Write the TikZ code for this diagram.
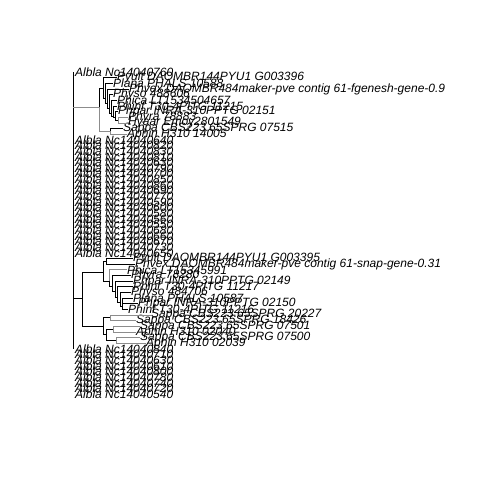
\documentclass[tikz,border=0pt]{standalone}
\usepackage{fontspec}
\setmainfont{Liberation Sans}
\usetikzlibrary{positioning}
\newcommand{\yy}[1]{72+5.65*(#1)}
\begin{document}
\begin{tikzpicture}[
    x=1pt, y=-1pt,
    tip/.style={anchor=west, inner sep=0pt, font=\fontsize{12}{12}\selectfont\itshape},
    edge/.style={draw=black, line width=0.7pt},
    greyedge/.style={draw=black!45, line width=0.7pt}
]
\useasboundingbox (0,0) rectangle (480,480);
%% root
\coordinate (root) at (73,{\yy{0}});
\coordinate (rootend) at (73,{\yy{49}});
\draw[edge] (root) -- (rootend);
%% first clade
\node[tip] (a0) at (75,{\yy{0}}) {Albla Nc14040760};
\node[tip] (a1) at (117,{\yy{1}}) {Pyult DAOMBR144PYU1 G003396};
\node[tip] (a2) at (113,{\yy{2}}) {Plana PHALS 10588};
\node[tip] (a3) at (129,{\yy{3}}) {Phvex DAOMBR484maker-pve contig 61-fgenesh-gene-0.9};
\node[tip] (a4) at (113,{\yy{4}}) {Physo 488606};
\node[tip] (a5) at (117,{\yy{5}}) {Phica LT1534504657};
\node[tip] (a6) at (117,{\yy{6}}) {Phinf T30-4PITG 11215};
\node[tip] (a7) at (118,{\yy{7}}) {Phpar INRA-310PPTG 02151};
\node[tip] (a8) at (128,{\yy{8}}) {Phyra 78883};
\node[tip] (a9) at (128,{\yy{9}}) {Hyaar Emoy2801549};
\node[tip] (a10) at (123,{\yy{10}}) {Sappa CBS223.65SPRG 07515};
\node[tip] (a11) at (127,{\yy{11}}) {Aphin H310 14005};
\coordinate (A) at (99,{\yy{6.25}});
\coordinate (P) at (103,{\yy{2.85}});
\coordinate (S) at (110,{\yy{10.5}});
\coordinate (n2) at (105,{\yy{4.7}});
\coordinate (n3) at (107,{\yy{5.6}});
\coordinate (n4) at (109,{\yy{6.5}});
\coordinate (n5) at (111,{\yy{7.3}});
\coordinate (n6) at (113,{\yy{7.8}});
\coordinate (n7) at (115,{\yy{8.1}});
\coordinate (n8) at (118,{\yy{8.5}});
\draw[greyedge] (root |- A) -- (A);
\draw[edge] (A) |- (P);
\draw[greyedge] (A) |- (S);
\draw[edge] (S) |- (a10.west);
\draw[greyedge] (S) |- (a11.west);
\draw[edge] (P) |- (a1.west);
\draw[edge] (P) |- (n2);
\draw[edge] (n2) |- (a2.west);
\draw[edge] (n2) |- (n3);
\draw[edge] (n3) |- (a3.west);
\draw[edge] (n3) |- (n4);
\draw[edge] (n4) |- (a4.west);
\draw[edge] (n4) |- (n5);
\draw[edge] (n5) |- (a5.west);
\draw[edge] (n5) |- (n6);
\draw[edge] (n6) |- (a6.west);
\draw[edge] (n6) |- (n7);
\draw[edge] (n7) |- (a7.west);
\draw[edge] (n7) |- (n8);
\draw[greyedge] (n8) |- (a8.west);
\draw[greyedge] (n8) |- (a9.west);
%% albla tips on the root
\foreach \i/\num in {12/640,13/820,14/830,15/810,16/630,17/790,18/700,19/850,20/860,21/690,
                     22/770,23/590,24/600,25/580,26/560,27/550,28/680,29/660,30/670,31/730,32/650}
    \node[tip] (m\i) at (75,{\yy{\i}}) {Albla Nc14040\num};
%% second clade
\node[tip] (b33) at (133,{\yy{33}}) {Pyult DAOMBR144PYU1 G003395};
\node[tip] (b34) at (135,{\yy{34}}) {Phvex DAOMBR484maker-pve contig 61-snap-gene-0.31};
\node[tip] (b35) at (127,{\yy{35}}) {Phica LT15345991};
\node[tip] (b36) at (131,{\yy{36}}) {Phyra 78280};
\node[tip] (b37) at (133,{\yy{37}}) {Phpar INRA-310PPTG 02149};
\node[tip] (b38) at (133,{\yy{38}}) {Phinf T30-4PITG 11217};
\node[tip] (b39) at (131,{\yy{39}}) {Physo 484706};
\node[tip] (b40) at (133,{\yy{40}}) {Plana PHALS 10587};
\node[tip] (b41) at (138,{\yy{41}}) {Phpar INRA-310PPTG 02150};
\node[tip] (b42) at (128,{\yy{42}}) {Phinf T30-4PITG 11216};
\node[tip] (b43) at (151,{\yy{43}}) {Sappa CBS223.65SPRG 20227};
\node[tip] (b44) at (136,{\yy{44}}) {Sappa CBS223.65SPRG 18426};
\node[tip] (b45) at (140,{\yy{45}}) {Sappa CBS223.65SPRG 07501};
\node[tip] (b46) at (136,{\yy{46}}) {Aphin H310 02040};
\node[tip] (b47) at (140,{\yy{47}}) {Sappa CBS223.65SPRG 07500};
\node[tip] (b48) at (146,{\yy{48}}) {Aphin H310 02039};
\coordinate (B) at (82,{\yy{40}});
\coordinate (U) at (103,{\yy{35.5}});
\coordinate (w1) at (106,{\yy{33.5}});
\coordinate (w2) at (109,{\yy{37}});
\coordinate (w3) at (112,{\yy{38}});
\coordinate (w4) at (115,{\yy{38.9}});
\coordinate (w5) at (117,{\yy{39.9}});
\coordinate (w6) at (120,{\yy{40.7}});
\coordinate (w7) at (122,{\yy{41.5}});
\coordinate (L) at (103,{\yy{45}});
\coordinate (M1) at (110,{\yy{43.5}});
\coordinate (M2) at (106,{\yy{46.5}});
\coordinate (p1) at (113,{\yy{45.5}});
\coordinate (p2) at (116,{\yy{47.5}});
\draw[edge] (root |- B) -- (B);
\draw[edge] (B) |- (U);
\draw[edge] (B) |- (L);
\draw[edge] (U) |- (w1);
\draw[edge] (w1) |- (b33.west);
\draw[edge] (w1) |- (b34.west);
\draw[edge] (U) |- (w2);
\draw[greyedge] (w2) |- (b35.west);
\draw[edge] (w2) |- (w3);
\draw[edge] (w3) |- (b36.west);
\draw[edge] (w3) |- (w4);
\draw[edge] (w4) |- (b37.west);
\draw[edge] (w4) |- (w5);
\draw[edge] (w5) |- (b38.west);
\draw[edge] (w5) |- (w6);
\draw[edge] (w6) |- (b39.west);
\draw[edge] (w6) |- (w7);
\draw[edge] (w7) |- (b40.west);
\draw[edge] (w7) |- (b41.west);
\draw[edge] (w7) |- (b42.west);
\draw[edge] (L) |- (M1);
\draw[greyedge] (M1) |- (b43.west);
\draw[greyedge] (M1) |- (b44.west);
\draw[edge] (L) |- (M2);
\draw[edge] (M2) |- (p1);
\draw[greyedge] (p1) |- (b45.west);
\draw[greyedge] (p1) |- (b46.west);
\draw[edge] (M2) |- (p2);
\draw[greyedge] (p2) |- (b47.west);
\draw[greyedge] (p2) |- (b48.west);
%% albla tips at the bottom
\foreach \i/\num in {49/840,50/710,51/630,52/610,53/800,54/780,55/740,56/720,57/540}
    \node[tip] (z\i) at (75,{\yy{\i}}) {Albla Nc14040\num};
\end{tikzpicture}
\end{document}
